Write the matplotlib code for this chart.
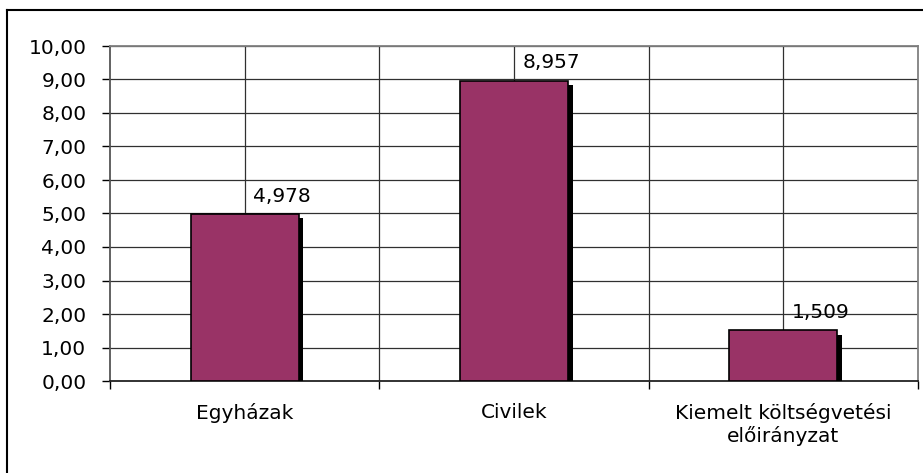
import matplotlib
matplotlib.use("Agg")
import matplotlib.pyplot as plt
import matplotlib.patheffects as pe
from matplotlib.lines import Line2D

categories = ["Egyházak", "Civilek", "Kiemelt költségvetési\nelőirányzat"]
values = [4.978, 8.957, 1.509]
value_labels = ["4,978", "8,957", "1,509"]
y_ticks = [0, 1, 2, 3, 4, 5, 6, 7, 8, 9, 10]
y_tick_labels = ["0,00", "1,00", "2,00", "3,00", "4,00", "5,00",
                 "6,00", "7,00", "8,00", "9,00", "10,00"]

plt.rcParams['font.family'] = ['DejaVu Sans']

fig = plt.figure(figsize=(9.23, 4.73), dpi=100)
ax = fig.add_axes([110 / 923, 92 / 473, 808 / 923, 335 / 473])

x = list(range(len(categories)))
shadow = pe.SimplePatchShadow(offset=(3.5, -3), shadow_rgbFace='black', alpha=1.0)
ax.bar(x, values, width=0.40, color='#993366', edgecolor='black', linewidth=1.2,
       zorder=3, path_effects=[shadow, pe.Normal()])

for xi, v, lab in zip(x, values, value_labels):
    ax.text(xi + 0.14, v + 0.38, lab, ha='center', va='baseline', fontsize=14.5)

ax.set_xlim(-0.5, 2.5)
ax.set_ylim(0, 10)
ax.set_yticks(y_ticks)
ax.set_yticklabels(y_tick_labels, fontsize=14.5)

# category boundaries as major ticks, labels on centres
ax.set_xticks([-0.5, 0.5, 1.5, 2.5])
ax.set_xticklabels([])
ax.set_xticks(x, minor=True)
ax.set_xticklabels(categories, minor=True, fontsize=14.5, linespacing=1.2)
ax.tick_params(axis='x', which='major', length=6, width=1, direction='out')
ax.tick_params(axis='x', which='minor', length=0, pad=16)
ax.tick_params(axis='y', length=6, width=1, pad=11)

for yv in y_ticks[1:]:
    ax.axhline(yv, color='#303030', linewidth=0.9, zorder=1)
for xv in [0, 0.5, 1, 1.5, 2]:
    ax.axvline(xv, color='#303030', linewidth=0.9, zorder=1)

ax.spines['left'].set_color('#555555')
ax.spines['bottom'].set_color('#222222')
ax.spines['top'].set_color('#808080')
ax.spines['right'].set_color('#808080')
for s in ax.spines.values():
    s.set_linewidth(1.3)

# outer chart border
fig.add_artist(Line2D([7 / 923, 1], [1 - 10 / 473, 1 - 10 / 473], color='black', linewidth=1.5))
fig.add_artist(Line2D([7 / 923, 7 / 923], [0, 1 - 10 / 473], color='black', linewidth=1.5))

fig.savefig("out.png", dpi=100)
